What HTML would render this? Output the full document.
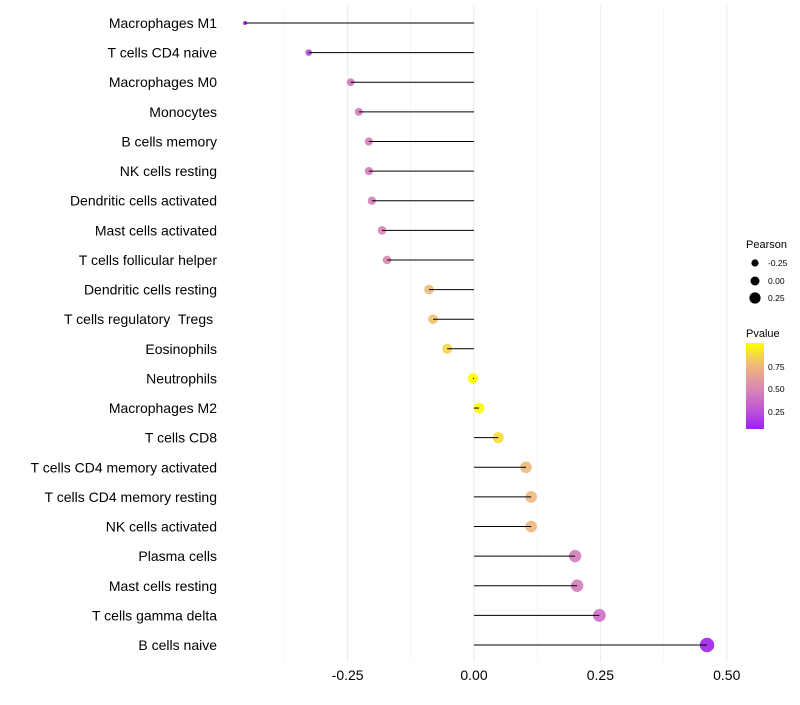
<!DOCTYPE html>
<html><head><meta charset="utf-8"><style>
body{margin:0;background:#fff;font-family:"Liberation Sans",sans-serif;}
text{white-space:pre;}
</style></head><body>
<svg id="chart" width="800" height="700" xmlns="http://www.w3.org/2000/svg" font-family="Liberation Sans, sans-serif">
<g id="grid"></g>
<g id="marks"></g>
<g id="ylabels"></g>
<g id="xlabels"></g>
<g id="legend">
<defs><linearGradient id="pg" x1="0" y1="1" x2="0" y2="0">
<stop offset="0" stop-color="#A020F0"/><stop offset="0.22" stop-color="#BE55D8"/><stop offset="0.47" stop-color="#DA88B4"/><stop offset="0.74" stop-color="#EFB77A"/><stop offset="1" stop-color="#FFFF00"/></linearGradient></defs>
<text x="746" y="248" font-size="11" fill="#000">Pearson</text>
<circle cx="755" cy="263" r="3.6" fill="#000"/>
<text x="768" y="266" font-size="8.5">-0.25</text>
<circle cx="755" cy="281" r="4.5" fill="#000"/>
<text x="768" y="284" font-size="8.5">0.00</text>
<circle cx="755" cy="298" r="5.6" fill="#000"/>
<text x="768" y="301" font-size="8.5">0.25</text>
<text x="746" y="337" font-size="11">Pvalue</text>
<rect x="746" y="343" width="18" height="86" fill="url(#pg)"/>
<text x="768" y="370" font-size="8.5">0.75</text>
<text x="768" y="392" font-size="8.5">0.50</text>
<text x="768" y="415" font-size="8.5">0.25</text>
</g>
</svg>
<script>
const categories=["Macrophages M1","T cells CD4 naive","Macrophages M0","Monocytes","B cells memory","NK cells resting","Dendritic cells activated","Mast cells activated","T cells follicular helper","Dendritic cells resting","T cells regulatory  Tregs ","Eosinophils","Neutrophils","Macrophages M2","T cells CD8","T cells CD4 memory activated","T cells CD4 memory resting","NK cells activated","Plasma cells","Mast cells resting","T cells gamma delta","B cells naive"];
const pearson=[-0.453,-0.327,-0.244,-0.228,-0.208,-0.208,-0.202,-0.182,-0.172,-0.089,-0.081,-0.053,-0.002,0.010,0.048,0.103,0.113,0.113,0.200,0.204,0.248,0.461];
const pvalue=[0.06,0.2,0.42,0.44,0.44,0.44,0.45,0.48,0.5,0.75,0.77,0.85,0.99,0.98,0.88,0.74,0.74,0.74,0.44,0.44,0.36,0.08];
const xTicks=[-0.25,0,0.25,0.5];
const xTickLabels=["-0.25","0.00","0.25","0.50"];
const NS="http://www.w3.org/2000/svg";
const xs=v=>474+v*505.5;
const ys=i=>23+i*(622/(categories.length-1));
const dia=v=>Math.sqrt(16+(v+0.453)/0.914*194);
const stops=[[0.06,[160,32,240]],[0.27,[196,96,210]],[0.5,[220,138,180]],[0.75,[240,186,125]],[1,[255,255,0]]];
function col(p){p=Math.max(0.06,Math.min(1,p));for(let k=0;k<stops.length-1;k++){const a=stops[k],b=stops[k+1];if(p<=b[0]){const t=(p-a[0])/(b[0]-a[0]);const c=a[1].map((x,j)=>Math.round(x+(b[1][j]-x)*t));return `rgb(${c})`;}}return "rgb(255,255,0)";}
function mk(tag,at,parent){const e=document.createElementNS(NS,tag);for(const k in at)e.setAttribute(k,at[k]);parent.appendChild(e);return e;}
const grid=document.getElementById('grid'),marks=document.getElementById('marks'),yl=document.getElementById('ylabels'),xl=document.getElementById('xlabels');
const minor=[-0.375,-0.125,0.125,0.375];
minor.forEach(v=>{const l=mk('line',{x1:xs(v),x2:xs(v),y1:5,y2:662,stroke:'#f2f2f2','stroke-width':0.6},grid);

});
xTicks.forEach((v,i)=>{const l=mk('line',{x1:xs(v),x2:xs(v),y1:5,y2:662,stroke:'#ebebeb','stroke-width':1.1},grid);


const t=mk('text',{x:xs(v),y:680,'font-size':14,'text-anchor':'middle',fill:'#000'},xl);t.textContent=xTickLabels[i];

});
categories.forEach((c,i)=>{const y=ys(i);
const pt=mk('circle',{cx:xs(pearson[i]),cy:y,r:dia(pearson[i])/2,fill:col(pvalue[i]),'fill-opacity':0.92},marks);


const ln=mk('line',{x1:xs(0),x2:xs(pearson[i]),y1:y,y2:y,stroke:'#000','stroke-width':1},marks);


const t=mk('text',{x:217,y:y+5,'font-size':14,'text-anchor':'end',fill:'#000'},yl);t.textContent=c;

});
</script>
</body></html>
